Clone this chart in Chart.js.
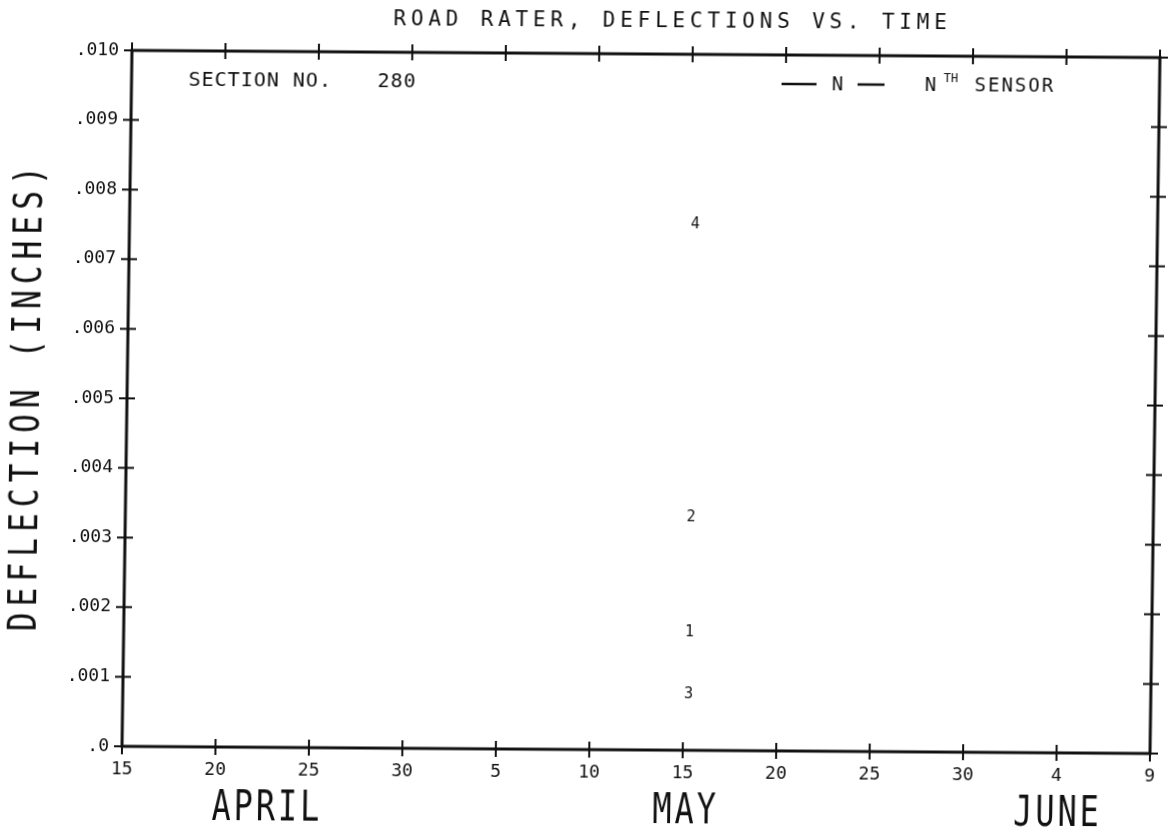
<!DOCTYPE html>
<html>
<head>
<meta charset="utf-8">
<title>Road Rater, Deflections vs. Time</title>
<script src="https://cdn.jsdelivr.net/npm/chart.js@4.4.1/dist/chart.umd.min.js"></script>
<style>
  html, body { margin: 0; padding: 0; background: #fff; overflow: hidden; }
  #wrap {
    width: 1170px; height: 838px;
    transform-origin: 641px 402px;
    transform: matrix(1, 0.007, -0.0143, 1, 0, 0);
  }
  canvas { display: block; }
</style>
</head>
<body>
<div id="wrap"><canvas id="chart" width="1170" height="838"></canvas></div>
<script>
// Sensor numbers plotted as the point symbols
const sensors = ['1', '2', '3', '4'];
// Test date, in days after April 15 (30 = May 15)
const testDay = [30, 30, 30, 30];
// Peak deflection for each sensor, inches
const deflection = [0.0017, 0.00335, 0.0008, 0.00755];

// Axis tick labels
const xTickLabels = ['15', '20', '25', '30', '5', '10', '15', '20', '25', '30', '4', '9'];
const yTickLabels = ['.0', '.001', '.002', '.003', '.004', '.005', '.006', '.007', '.008', '.009', '.010'];
const monthNames = ['APRIL', 'MAY', 'JUNE'];

const INK = '#111';
const MONO = '"DejaVu Sans Mono", "Liberation Mono", monospace';

function putText(ctx, text, x, y, o) {
  ctx.save();
  ctx.translate(x, y);
  if (o.rotate) ctx.rotate(o.rotate);
  const sx = o.sx || 1;
  ctx.scale(sx, 1);
  ctx.font = (o.weight || 'normal') + ' ' + o.size + 'px ' + MONO;
  ctx.letterSpacing = ((o.spacing || 0) / sx) + 'px';
  ctx.textAlign = o.align || 'left';
  ctx.textBaseline = 'middle';
  ctx.fillStyle = INK;
  ctx.fillText(text, 0, 0);
  ctx.restore();
}

// Frame, cross-shaped ticks on all four sides, and the plot annotations
const plotterDecor = {
  id: 'plotterDecor',
  afterDraw(chart) {
    const ctx = chart.ctx;
    const a = chart.chartArea;
    const xs = chart.scales.x, ys = chart.scales.y;
    ctx.save();
    ctx.strokeStyle = INK;
    ctx.lineWidth = 3;
    ctx.strokeRect(a.left, a.top, a.right - a.left, a.bottom - a.top);
    ctx.lineWidth = 2;
    const t = 8;
    ctx.beginPath();
    xs.ticks.forEach((tk, i) => {
      const px = xs.getPixelForTick(i);
      ctx.moveTo(px, a.bottom - t); ctx.lineTo(px, a.bottom + t);
      ctx.moveTo(px, a.top - t); ctx.lineTo(px, a.top + t);
    });
    ys.ticks.forEach((tk, i) => {
      const py = ys.getPixelForTick(i);
      ctx.moveTo(a.left - t, py); ctx.lineTo(a.left + t, py);
      ctx.moveTo(a.right - t, py); ctx.lineTo(a.right + t, py);
    });
    ctx.stroke();

    // sensor numbers at their data points
    const meta = chart.getDatasetMeta(0);
    meta.data.forEach((pt, i) => {
      putText(ctx, sensors[i], pt.x + 5, pt.y, { size: 15, align: 'center' });
    });

    // title and header lines
    putText(ctx, 'ROAD RATER, DEFLECTIONS VS. TIME', 388, 22, { size: 21, spacing: 4.8 });
    putText(ctx, 'SECTION NO.', 184, 84, { size: 20, spacing: 1 });
    putText(ctx, '280', 373, 84, { size: 20, spacing: 1 });

    // key: a line, N, a line, then the explanation
    ctx.lineWidth = 2.5;
    ctx.beginPath();
    ctx.moveTo(777, 83); ctx.lineTo(812, 83);
    ctx.moveTo(853, 83); ctx.lineTo(880, 83);
    ctx.stroke();
    putText(ctx, 'N', 833, 84, { size: 19, align: 'center' });
    putText(ctx, 'N', 926, 84, { size: 19, align: 'center' });
    putText(ctx, 'TH', 939, 77, { size: 12, spacing: 0 });
    putText(ctx, 'SENSOR', 970, 84, { size: 19, spacing: 2 });

    // y axis title
    putText(ctx, 'DEFLECTION (INCHES)', 29, 400, { size: 39, sx: 0.8, spacing: 6, align: 'center', rotate: -Math.PI / 2 });

    // month names under the date ticks
    const monthDay = [7.8, 30.2, 50.1];
    monthNames.forEach((m, i) => {
      putText(ctx, m, xs.getPixelForValue(monthDay[i]), 812, { size: 43, sx: 0.74, spacing: 3, align: 'center' });
    });
    ctx.restore();
  }
};

new Chart(document.getElementById('chart'), {
  type: 'scatter',
  data: {
    datasets: [{
      label: 'Sensor',
      data: testDay.map((d, i) => ({ x: d, y: deflection[i] })),
      pointRadius: 0,
      pointHoverRadius: 0,
      showLine: false
    }]
  },
  options: {
    responsive: false,
    animation: false,
    devicePixelRatio: 1,
    layout: { padding: { left: 0, top: 54, right: 15, bottom: 0 } },
    plugins: { legend: { display: false }, tooltip: { enabled: false }, title: { display: false } },
    scales: {
      x: {
        type: 'linear',
        min: 0, max: 55,
        grid: { display: false, drawTicks: false },
        border: { display: false },
        ticks: {
          stepSize: 5,
          padding: 13,
          color: INK,
          font: { family: MONO, size: 18 },
          maxRotation: 0,
          autoSkip: false,
          callback: (v, i) => xTickLabels[i]
        },
        afterFit(s) { s.height = 88; s.paddingLeft = 0; s.paddingRight = 0; }
      },
      y: {
        type: 'linear',
        min: 0, max: 0.010,
        grid: { display: false, drawTicks: false },
        border: { display: false },
        ticks: {
          stepSize: 0.001,
          padding: 13,
          color: INK,
          font: { family: MONO, size: 18 },
          autoSkip: false,
          callback: (v, i) => yTickLabels[i]
        },
        afterFit(s) { s.width = 127; s.paddingTop = 0; s.paddingBottom = 0; }
      }
    }
  },
  plugins: [plotterDecor]
});
</script>
</body>
</html>
